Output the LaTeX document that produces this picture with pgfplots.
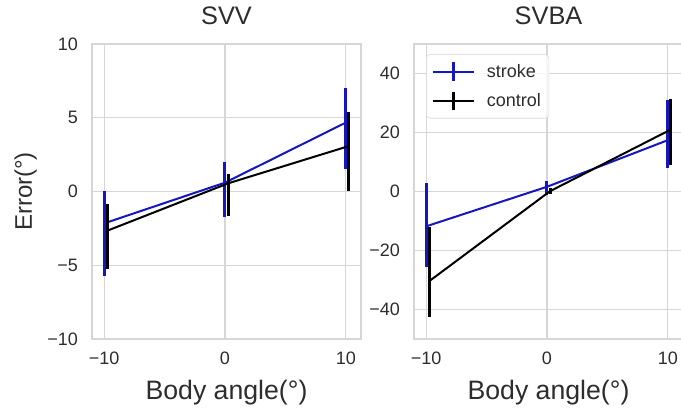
\documentclass[border=0pt]{standalone}
\usepackage{fontspec}
\setmainfont{Liberation Sans}
\usepackage{pgfplots}
\pgfplotsset{compat=1.18}
\definecolor{strokeblue}{RGB}{22,22,190}
\definecolor{gridgray}{RGB}{214,214,214}
\definecolor{ticktext}{RGB}{45,45,45}

\pgfplotsset{
  sb/.style={
    width=201.75pt, height=221.25pt, scale only axis,
    xmin=-11.01, xmax=11.26,
    xtick={-10,0,10}, xticklabels={−10,0,10},
    grid=major, major grid style={gridgray, line width=1pt},
    axis line style={gridgray, line width=1.1pt},
    major tick length=0pt,
    tick label style={font=\fontsize{13.5}{15}\selectfont, text=ticktext},
    xticklabel style={yshift=-6pt},
    yticklabel style={xshift=-7pt},
    title style={at={(axis description cs:0.5,1)}, anchor=base, yshift=8.25pt,
      font=\fontsize{19}{21}\selectfont, text=ticktext},
    xlabel style={at={(axis description cs:0.5,0)}, anchor=base, yshift=-45pt,
      font=\fontsize{20}{22}\selectfont, text=ticktext},
    ylabel style={at={(axis description cs:0,0.5)}, anchor=base, yshift=45pt,
      font=\fontsize{18}{20}\selectfont, text=ticktext},
    legend image code/.code={
      \draw[#1] (0pt,0pt) -- (31pt,0pt);
      \draw[#1, line width=2pt] (15.5pt,-7pt) -- (15.5pt,7pt);
    },
  },
  strokeplot/.style={strokeblue, line width=1.5pt, mark=none,
    error bars/.cd, y dir=both, y explicit, error mark=none,
    error bar style={line width=2.25pt, strokeblue}},
  controlplot/.style={black, line width=1.5pt, mark=none,
    error bars/.cd, y dir=both, y explicit, error mark=none,
    error bar style={line width=2.25pt, black}},
}

\begin{document}
\begin{tikzpicture}
\begin{axis}[sb, at={(0pt,0pt)}, anchor=south west,
  ymin=-10, ymax=10, ytick={-10,-5,0,5,10}, yticklabels={−10,−5,0,5,10},
  title={SVV}, xlabel={Body angle(°)}, ylabel={Error(°)}]
\addplot[strokeplot] coordinates {
  (-10,-2.16) += (0,2.2) -= (0,3.57)
  (0,0.6) += (0,1.4) -= (0,2.35)
  (10,4.67) += (0,2.37) -= (0,3.12)
};
\addplot[controlplot] coordinates {
  (-9.75,-2.66) += (0,1.81) -= (0,2.6)
  (0.25,0.55) += (0,0.65) -= (0,2.2)
  (10.25,3.08) += (0,2.32) -= (0,3.08)
};
\end{axis}
\begin{axis}[sb, at={(241.5pt,0pt)}, anchor=south west,
  ymin=-50, ymax=50, ytick={-40,-20,0,20,40}, yticklabels={−40,−20,0,20,40},
  title={SVBA}, xlabel={Body angle(°)},
  legend cell align=left,
  legend style={at={(axis description cs:0,1)}, anchor=north west,
    xshift=9pt, yshift=-7.5pt, draw=gridgray, rounded corners=3pt,
    fill=white, fill opacity=0.8, text opacity=1, text=ticktext,
    font=\fontsize{13.5}{15}\selectfont, row sep=6pt, column sep=7pt,
    inner xsep=4pt, inner ysep=5pt}]
\addplot[strokeplot] coordinates {
  (-10,-11.8) += (0,14.8) -= (0,13.7)
  (0,1.6) += (0,1.9) -= (0,2.8)
  (10,17.4) += (0,13.5) -= (0,9.3)
};
\addlegendentry{stroke}
\addplot[controlplot] coordinates {
  (-9.75,-30.4) += (0,18.2) -= (0,12)
  (0.25,0.1) += (0,1) -= (0,1)
  (10.25,21.0) += (0,10.5) -= (0,11.9)
};
\addlegendentry{control}
\end{axis}
\pgfresetboundingbox
\useasboundingbox (-69pt,-53.25pt) rectangle (441.75pt,254.25pt);
\end{tikzpicture}
\end{document}
